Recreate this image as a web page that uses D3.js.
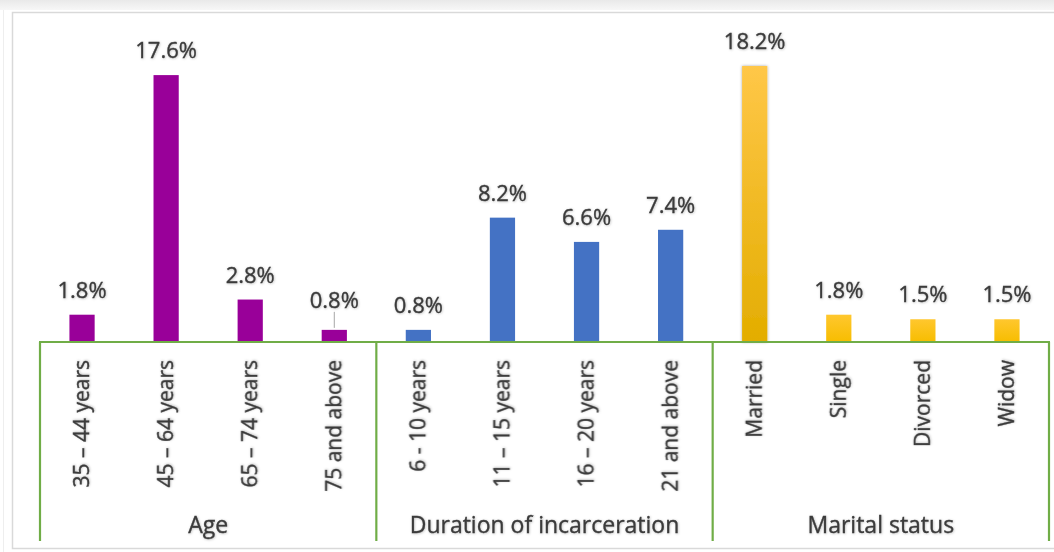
<!DOCTYPE html>
<html>
<head>
<meta charset="utf-8">
<script src="https://cdnjs.cloudflare.com/ajax/libs/d3/7.8.5/d3.min.js"></script>
<style>
  html, body { margin: 0; padding: 0; background: #fff; }
  svg { display: block; }
  text { font-family: "Open Sans", "Noto Sans", sans-serif; fill: #3b3b3b; stroke: #3b3b3b; stroke-width: 0.35px; }
</style>
</head>
<body>
<svg id="chart" width="1054" height="552"></svg>
<script>
// Categories, grouped under three headings
const groups = ["Age", "Duration of incarceration", "Marital status"];
const ageCategories = ["35 – 44 years", "45 – 64 years", "65 – 74 years", "75 and above"];
const durationCategories = ["6 - 10 years", "11 – 15 years", "16 – 20 years", "21 and above"];
const maritalCategories = ["Married", "Single", "Divorced", "Widow"];

// Percentages for each category
const ageValues = [1.8, 17.6, 2.8, 0.8];
const durationValues = [0.8, 8.2, 6.6, 7.4];
const maritalValues = [18.2, 1.8, 1.5, 1.5];

const rows = [];
[[ageCategories, ageValues, 0], [durationCategories, durationValues, 1], [maritalCategories, maritalValues, 2]]
  .forEach(([cats, vals, g]) => cats.forEach((c, i) => rows.push({ key: g + "|" + c, label: c, value: vals[i], group: g })));

const svg = d3.select("#chart");
const W = 1054, H = 552;

// Frame around the chart area
const defs = svg.append("defs");
const topShade = defs.append("linearGradient").attr("id", "topShade").attr("x1", 0).attr("y1", 0).attr("x2", 0).attr("y2", 1);
topShade.append("stop").attr("offset", "0%").attr("stop-color", "#e9e9e9");
topShade.append("stop").attr("offset", "100%").attr("stop-color", "#f7f7f7");
svg.append("rect").attr("x", 0).attr("y", 0).attr("width", W).attr("height", 10).attr("fill", "url(#topShade)");
svg.append("rect").attr("x", 12.5).attr("y", 12.5).attr("width", W).attr("height", 536)
  .attr("fill", "#fff").attr("stroke", "#d9d9d9").attr("stroke-width", 1.5);
svg.append("line").attr("x1", 3.5).attr("x2", 3.5).attr("y1", 10).attr("y2", H).attr("stroke", "#eeeeee");

// Gradients for the bar fills
const goldBig = defs.append("linearGradient").attr("id", "goldBig").attr("x1", 0).attr("y1", 0).attr("x2", 0).attr("y2", 1);
goldBig.append("stop").attr("offset", "0%").attr("stop-color", "#ffc748");
goldBig.append("stop").attr("offset", "100%").attr("stop-color", "#e3ad00");
const gold = defs.append("linearGradient").attr("id", "gold").attr("x1", 0).attr("y1", 0).attr("x2", 0).attr("y2", 1);
gold.append("stop").attr("offset", "0%").attr("stop-color", "#ffc72e");
gold.append("stop").attr("offset", "100%").attr("stop-color", "#f7bd00");
const shadow = defs.append("filter").attr("id", "shadow").attr("x", "-40%").attr("y", "-10%").attr("width", "180%").attr("height", "120%");
shadow.append("feDropShadow").attr("dx", 0).attr("dy", 0).attr("stdDeviation", 1.6).attr("flood-color", "#000").attr("flood-opacity", 0.35);
const textSoft = defs.append("filter").attr("id", "textSoft").attr("x", "-10%").attr("y", "-20%").attr("width", "120%").attr("height", "140%");
textSoft.append("feDropShadow").attr("dx", 0.6).attr("dy", 0.6).attr("stdDeviation", 0.8).attr("flood-color", "#000").attr("flood-opacity", 0.25);

const left = 40, right = 1049, base = 342;
const x = d3.scaleBand().domain(rows.map(d => d.key)).range([left, right]).paddingInner(0.7).paddingOuter(0.35);
const y = d3.scaleLinear().domain([0, 18.2]).range([base, 66]);

const fillFor = d => d.group === 0 ? "#990099" : d.group === 1 ? "#4472c4" : (d.label === "Married" ? "url(#goldBig)" : "url(#gold)");

// Bars
svg.append("g").selectAll("rect").data(rows).join("rect")
  .attr("x", d => x(d.key))
  .attr("y", d => y(d.value))
  .attr("width", x.bandwidth())
  .attr("height", d => y(0) - y(d.value))
  .attr("fill", fillFor)
  .attr("filter", d => d.label === "Married" ? "url(#shadow)" : null);

// Value labels; the smallest age bar has its label lifted with a leader line
const lift = d => (d.group === 0 && d.label === "75 and above") ? 22 : 17;
svg.append("g").selectAll("text").data(rows).join("text")
  .attr("x", d => x(d.key) + x.bandwidth() / 2)
  .attr("y", d => y(d.value) - lift(d))
  .attr("text-anchor", "middle")
  .attr("font-size", 22)
  .attr("filter", "url(#textSoft)")
  .text(d => d.value.toFixed(1) + "%");
rows.filter(d => lift(d) > 17).forEach(d => {
  const cx = x(d.key) + x.bandwidth() / 2;
  svg.append("line").attr("x1", cx).attr("x2", cx)
    .attr("y1", y(d.value) - lift(d) + 4).attr("y2", y(d.value) - 2)
    .attr("stroke", "#a6a6a6").attr("stroke-width", 1);
});

// Category axis: rotated tick labels hanging from the baseline
const axis = svg.append("g");
axis.selectAll("text").data(rows).join("text")
  .attr("transform", d => `translate(${x(d.key) + x.bandwidth() / 2},360) rotate(-90)`)
  .attr("text-anchor", "end")
  .attr("dy", "0.35em")
  .attr("font-size", 21)
  .attr("filter", "url(#textSoft)")
  .text(d => d.label);

// Group brackets and headings
const step = x.step();
const slotStart = k => x(k) - (step - x.bandwidth()) / 2;
const green = "#70ad47";
const bounds = groups.map((g, gi) => {
  const ks = rows.filter(r => r.group === gi).map(r => r.key);
  return { name: g, x0: slotStart(ks[0]), x1: slotStart(ks[ks.length - 1]) + step };
});
const edges = [bounds[0].x0, ...bounds.map(b => b.x1)];
axis.selectAll("line.sep").data(edges).join("line")
  .attr("class", "sep")
  .attr("x1", d => d).attr("x2", d => d)
  .attr("y1", base).attr("y2", 541)
  .attr("stroke", green).attr("stroke-width", 2.2);
axis.append("line").attr("x1", left - 1).attr("x2", right + 1).attr("y1", base).attr("y2", base)
  .attr("stroke", green).attr("stroke-width", 2.2);
axis.selectAll("text.group").data(bounds).join("text")
  .attr("class", "group")
  .attr("x", d => (d.x0 + d.x1) / 2)
  .attr("y", 533)
  .attr("text-anchor", "middle")
  .attr("font-size", 23)
  .attr("filter", "url(#textSoft)")
  .text(d => d.name);
</script>
</body>
</html>
